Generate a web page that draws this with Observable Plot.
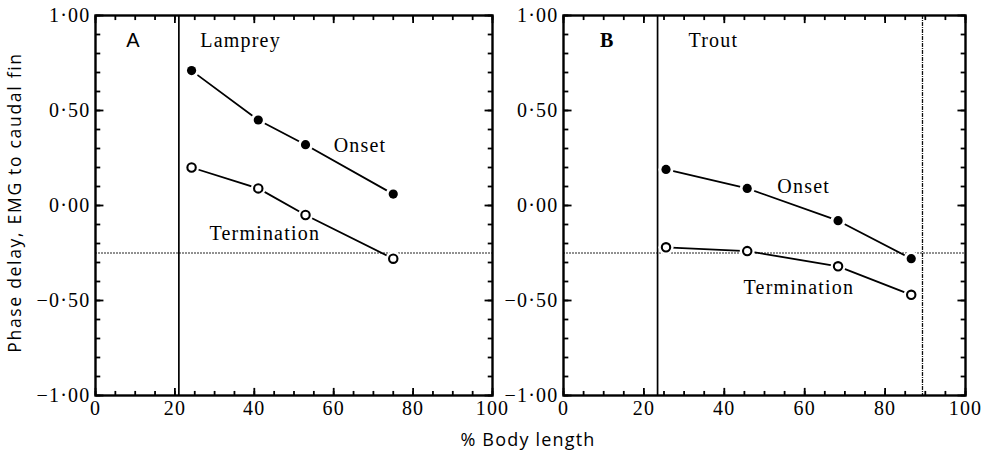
<!DOCTYPE html>
<html><head><meta charset="utf-8">
<script src="https://cdn.jsdelivr.net/npm/d3@7"></script>
<script src="https://cdn.jsdelivr.net/npm/@observablehq/plot@0.6"></script>
<style>
body{margin:0;background:#fff}
#wrap{position:relative;width:986px;height:453px;background:#fff}
#wrap svg{position:absolute;top:0;overflow:visible;background:transparent}
#xlabel{position:absolute;top:427px;left:70px;width:916px;text-align:center;font-family:"Open Sans";font-size:18px;line-height:24px;letter-spacing:1.2px;color:#000}
</style></head><body><div id="wrap"><div id="xlabel">% Body length</div></div>
<script>
// tick values and labels
const xTicks = [0, 20, 40, 60, 80, 100];
const xTickLabels = ["0", "20", "40", "60", "80", "100"];
const yTicks = [-1, -0.5, 0, 0.5, 1];
const yTickLabels = ["−1·00", "−0·50", "0·00", "0·50", "1·00"];
const xMinorTicks = [0, 5, 10, 15, 20, 25, 30, 35, 40, 45, 50, 55, 60, 65, 70, 75, 80, 85, 90, 95, 100];
const yMinorTicks = [-1, -0.9, -0.8, -0.7, -0.6, -0.5, -0.4, -0.3, -0.2, -0.1, 0, 0.1, 0.2, 0.3, 0.4, 0.5, 0.6, 0.7, 0.8, 0.9, 1];

// reference line
const dottedRefY = [-0.25];

// Panel A: Lamprey
const lampreyX = [24.2, 41.0, 52.9, 75.0];
const lampreyOnset = [0.71, 0.45, 0.32, 0.06];
const lampreyTermination = [0.20, 0.09, -0.05, -0.28];
const lampreySolidX = [21];

// Panel B: Trout
const troutX = [25.5, 45.7, 68.3, 86.5];
const troutOnset = [0.19, 0.09, -0.08, -0.28];
const troutTermination = [-0.22, -0.24, -0.32, -0.47];
const troutSolidX = [23.4];
const troutDashedX = [89.3];

const yLabel = "Phase delay, EMG to caudal fin";

function panel(o) {
  const height = 453, mT = 15, mB = 58;
  const on = o.xs.map((x, i) => ({x, y: o.onset[i]}));
  const te = o.xs.map((x, i) => ({x, y: o.term[i]}));
  const serif = "Liberation Serif";
  const tk = {stroke: "#000", strokeWidth: 1.8};
  const xMinLen = 0.024, xMajLen = 0.04;   // in y units (~4.5px, ~7.6px)
  const yMinLen = 1.2, yMajLen = 2.0;      // in x units (~4.8px, ~8px)
  const marks = [
    Plot.ruleY(dottedRefY, {stroke: "#222", strokeWidth: 1, strokeDasharray: "2,1"}),
    Plot.ruleX(o.solid, {stroke: "#000", strokeWidth: 1.7}),
    Plot.ruleX(o.dashed || [], {stroke: "#111", strokeWidth: 1.3, strokeDasharray: "4,1,1,1"}),
    Plot.line(on, {x: "x", y: "y", stroke: "#000", strokeWidth: 1.8}),
    Plot.line(te, {x: "x", y: "y", stroke: "#000", strokeWidth: 1.8}),
    Plot.dot(on.concat(te), {x: "x", y: "y", r: 7.5, fill: "white"}),
    Plot.dot(on, {x: "x", y: "y", r: 4.6, fill: "#000"}),
    Plot.dot(te, {x: "x", y: "y", r: 4.2, fill: "white", stroke: "#000", strokeWidth: 2.1}),
    Plot.text([o.letter], {x: o.letterPos[0], y: o.letterPos[1], fontSize: 20, fontFamily: o.letterFont, fontWeight: o.letterWeight}),
    Plot.text([o.name], {x: o.namePos[0], y: o.namePos[1], textAnchor: "start", fontSize: 20, fontFamily: serif}),
    Plot.text(["Onset"], {x: o.onsetPos[0], y: o.onsetPos[1], textAnchor: "start", fontSize: 20, fontFamily: serif}),
    Plot.text(["Termination"], {x: o.termPos[0], y: o.termPos[1], textAnchor: "start", fontSize: 20, fontFamily: serif}),
    // inward ticks on all four sides (frame edges)
    Plot.link(xMinorTicks, {x1: d => d, x2: d => d, y1: -1, y2: -1 + xMinLen, ...tk}),
    Plot.link(xMinorTicks, {x1: d => d, x2: d => d, y1: 1, y2: 1 - xMinLen, ...tk}),
    Plot.link(xTicks, {x1: d => d, x2: d => d, y1: -1, y2: -1 + xMajLen, ...tk}),
    Plot.link(xTicks, {x1: d => d, x2: d => d, y1: 1, y2: 1 - xMajLen, ...tk}),
    Plot.link(yMinorTicks, {y1: d => d, y2: d => d, x1: 0, x2: yMinLen, ...tk}),
    Plot.link(yMinorTicks, {y1: d => d, y2: d => d, x1: 100, x2: 100 - yMinLen, ...tk}),
    Plot.link(yTicks, {y1: d => d, y2: d => d, x1: 0, x2: yMajLen, ...tk}),
    Plot.link(yTicks, {y1: d => d, y2: d => d, x1: 100, x2: 100 - yMajLen, ...tk}),
    Plot.frame({stroke: "#000", strokeWidth: 2.4}),
    Plot.axisX(xTicks, {tickSize: 0, tickPadding: 5, label: null, tickFormat: d => xTickLabels[xTicks.indexOf(d)], fontSize: 20, fontFamily: serif}),
    Plot.axisY(yTicks, {tickSize: 0, tickPadding: 5, label: null, tickFormat: d => yTickLabels[yTicks.indexOf(d)], fontSize: 20, fontFamily: serif}),
  ];
  if (o.yLabel) {
    marks.push(Plot.text([o.yLabel], {frameAnchor: "left", textAnchor: "middle", lineAnchor: "middle", dx: -80, dy: -3, rotate: -90, fontSize: 17.5, fontFamily: "Open Sans"}));
  }
  const svg = Plot.plot({
    width: o.width, height,
    marginLeft: o.mL, marginRight: o.mR, marginTop: mT, marginBottom: mB,
    x: {domain: [0, 100], label: null},
    y: {domain: [-1, 1], label: null},
    style: {overflow: "visible", background: "transparent", letterSpacing: "1.2px", color: "#000"},
    marks
  });
  if (o.yLabel) {
    svg.querySelectorAll("text").forEach(t => { if (t.textContent === o.yLabel) t.style.letterSpacing = "1.7px"; });
  }
  svg.style.left = o.left + "px";
  return svg;
}

const wrap = document.getElementById("wrap");
wrap.appendChild(panel({
  left: 0, width: 520, mL: 95, mR: 28,
  xs: lampreyX, onset: lampreyOnset, term: lampreyTermination,
  solid: lampreySolidX, dashed: null,
  letter: "A", letterPos: [9.6, 0.87], letterFont: "Liberation Sans", letterWeight: "normal",
  name: "Lamprey", namePos: [26.4, 0.87],
  onsetPos: [60, 0.315], termPos: [28.7, -0.15],
  yLabel
}));
wrap.appendChild(panel({
  left: 493, width: 493, mL: 70, mR: 21,
  xs: troutX, onset: troutOnset, term: troutTermination,
  solid: troutSolidX, dashed: troutDashedX,
  letter: "B", letterPos: [10.9, 0.87], letterFont: "Liberation Serif", letterWeight: "bold",
  name: "Trout", namePos: [31.1, 0.87],
  onsetPos: [53.2, 0.10], termPos: [44.8, -0.43],
  yLabel: null
}));
</script></body></html>
